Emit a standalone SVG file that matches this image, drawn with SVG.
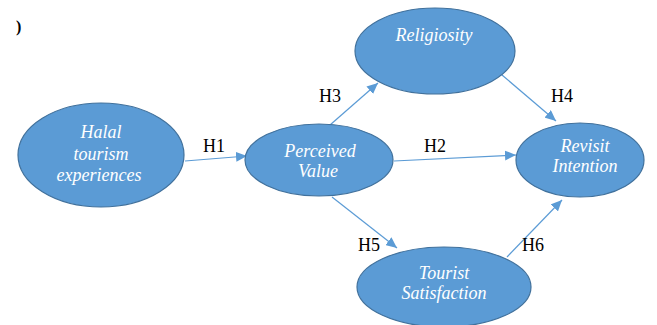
<svg xmlns="http://www.w3.org/2000/svg" width="657" height="325" viewBox="0 0 657 325">
<style>
.node ellipse{fill:#5B9BD5;stroke:#41719C;stroke-width:1.2}
#edges line{stroke:#5B9BD5;stroke-width:1.2;marker-end:url(#ah)}
</style>
<defs>
<marker id="ah" markerUnits="userSpaceOnUse" markerWidth="12" markerHeight="10" refX="11" refY="5" orient="auto">
<path d="M0,0 L11,5 L0,10 Z" fill="#5B9BD5"/>
</marker>
</defs>
<rect width="657" height="325" fill="#fff"/>
<g id="edges">
<line x1="185" y1="161" x2="247" y2="156"/>
<line x1="330" y1="125" x2="378" y2="83"/>
<line x1="394" y1="161" x2="516" y2="155"/>
<line x1="502" y1="75" x2="556" y2="121"/>
<line x1="332" y1="197" x2="397" y2="248"/>
<line x1="507" y1="257" x2="562" y2="200"/>
</g>
<g id="labels" fill="#000">
<text style="font-family:&quot;Liberation Serif&quot;,serif;font-size:18px" x="203" y="152">H1</text>
<text style="font-family:&quot;Liberation Serif&quot;,serif;font-size:18px" x="424" y="152">H2</text>
<text style="font-family:&quot;Liberation Serif&quot;,serif;font-size:18px" x="319" y="102">H3</text>
<text style="font-family:&quot;Liberation Serif&quot;,serif;font-size:18px" x="551" y="102">H4</text>
<text style="font-family:&quot;Liberation Serif&quot;,serif;font-size:18px" x="358" y="251">H5</text>
<text style="font-family:&quot;Liberation Serif&quot;,serif;font-size:18px" x="522" y="251">H6</text>
</g>
<g id="halal" class="node">
<ellipse cx="101" cy="155" rx="83" ry="52"/>
<text style="font-family:&quot;Liberation Serif&quot;,serif;font-size:18px;font-style:italic;fill:#fff;text-anchor:middle" x="101" y="138">Halal</text>
<text style="font-family:&quot;Liberation Serif&quot;,serif;font-size:18px;font-style:italic;fill:#fff;text-anchor:middle" x="101" y="160">tourism</text>
<text style="font-family:&quot;Liberation Serif&quot;,serif;font-size:18px;font-style:italic;fill:#fff;text-anchor:middle" x="99" y="181">experiences</text>
</g>
<g id="perceived" class="node">
<ellipse cx="319" cy="160" rx="74" ry="36"/>
<text style="font-family:&quot;Liberation Serif&quot;,serif;font-size:18px;font-style:italic;fill:#fff;text-anchor:middle" x="320" y="157">Perceived</text>
<text style="font-family:&quot;Liberation Serif&quot;,serif;font-size:18px;font-style:italic;fill:#fff;text-anchor:middle" x="318" y="177">Value</text>
</g>
<g id="religiosity" class="node">
<ellipse cx="435" cy="51" rx="80" ry="43"/>
<text style="font-family:&quot;Liberation Serif&quot;,serif;font-size:18px;font-style:italic;fill:#fff;text-anchor:middle" x="434" y="41">Religiosity</text>
</g>
<g id="revisit" class="node">
<ellipse cx="580" cy="160" rx="64" ry="37"/>
<text style="font-family:&quot;Liberation Serif&quot;,serif;font-size:18px;font-style:italic;fill:#fff;text-anchor:middle" x="585" y="152">Revisit</text>
<text style="font-family:&quot;Liberation Serif&quot;,serif;font-size:18px;font-style:italic;fill:#fff;text-anchor:middle" x="585" y="172">Intention</text>
</g>
<g id="satisfaction" class="node">
<ellipse cx="444" cy="287" rx="87" ry="40"/>
<text style="font-family:&quot;Liberation Serif&quot;,serif;font-size:18px;font-style:italic;fill:#fff;text-anchor:middle" x="444" y="279">Tourist</text>
<text style="font-family:&quot;Liberation Serif&quot;,serif;font-size:18px;font-style:italic;fill:#fff;text-anchor:middle" x="444" y="299">Satisfaction</text>
</g>
<text x="16" y="32" style="font-family:&quot;Liberation Serif&quot;,serif;font-size:16px;font-weight:bold">)</text>
</svg>
